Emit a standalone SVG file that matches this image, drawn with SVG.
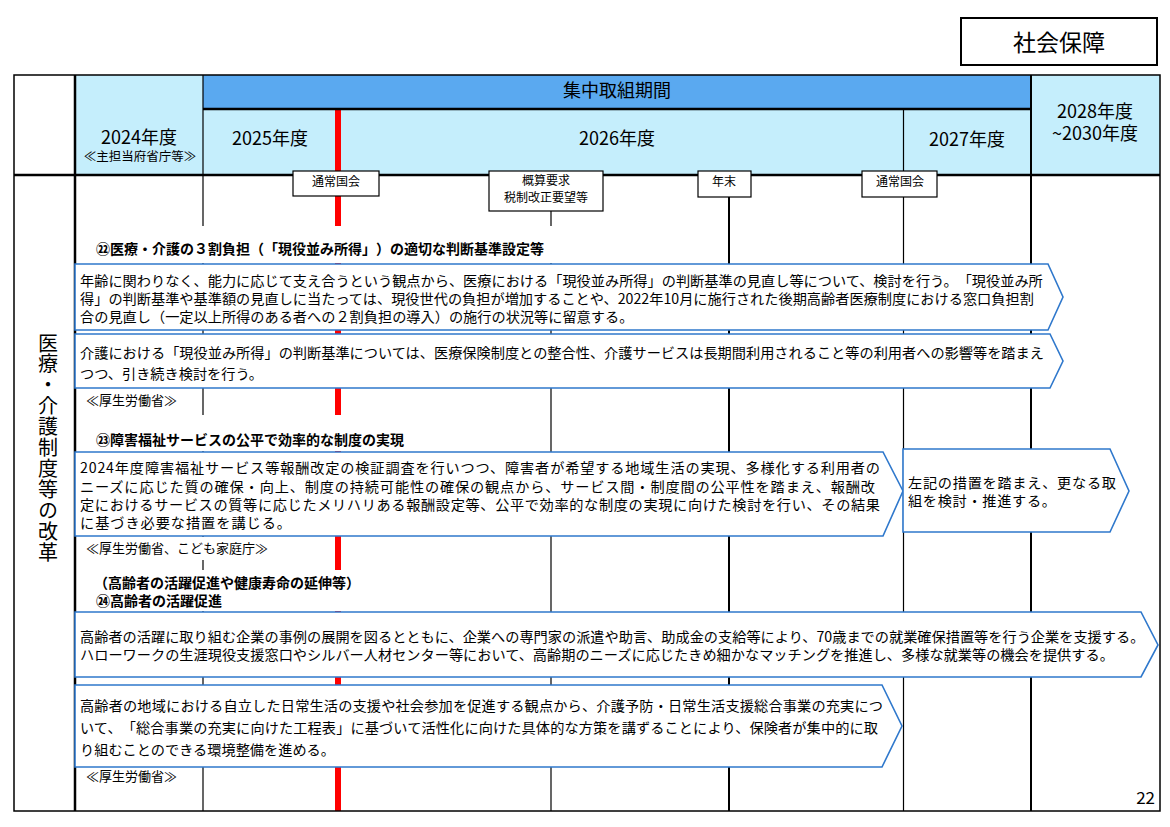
<svg xmlns="http://www.w3.org/2000/svg" width="1170" height="827" viewBox="0 0 1170 827">
<style>
text{font-family:"Noto Sans CJK JP","Noto Sans",sans-serif;fill:#000;text-spacing-trim:space-all}
.hd{font-size:18px;text-anchor:middle}
.ev{font-size:12px;text-anchor:middle}
.bd{font-size:14.2px}
.tt{font-size:14px;font-weight:bold}
.mn{font-size:13px}
.arr{fill:#fff;stroke:#2F78CC;stroke-width:1.6}
.evb{fill:#fff;stroke:#000;stroke-width:1.2}
.thin{stroke:#000;stroke-width:1.2}
.thick{stroke:#000;stroke-width:2}
</style>
<rect width="1170" height="827" fill="#fff"/>
<g id="title">
<rect x="961" y="18" width="196" height="47" fill="#fff" stroke="#000" stroke-width="2"/>
<text x="1059" y="51" font-size="23" text-anchor="middle">社会保障</text>
</g>
<g id="header">
<rect x="75" y="75" width="128" height="100" fill="#C5EEFC"/>
<rect x="203" y="75" width="828" height="34" fill="#5AA9F0"/>
<rect x="203" y="109" width="828" height="66" fill="#C5EEFC"/>
<rect x="1031" y="75" width="129" height="100" fill="#C5EEFC"/>
<text x="617" y="97" class="hd" font-size="17">集中取組期間</text>
<text x="139" y="144" class="hd">2024年度</text>
<text x="140" y="161" font-size="12.5" text-anchor="middle">≪主担当府省庁等≫</text>
<text x="270" y="145" class="hd">2025年度</text>
<text x="617" y="145" class="hd">2026年度</text>
<text x="967" y="146" class="hd">2027年度</text>
<text x="1095" y="118" class="hd">2028年度</text>
<text x="1095" y="140" class="hd">~2030年度</text>
</g>
<g id="grid">
<line x1="203" y1="75" x2="203" y2="811" class="thin"/>
<line x1="551" y1="211" x2="551" y2="811" class="thin"/>
<line x1="729" y1="197" x2="729" y2="811" class="thick"/>
<line x1="903.5" y1="109" x2="903.5" y2="811" class="thin"/>
<line x1="1031" y1="75" x2="1031" y2="811" class="thick"/>
<line x1="338" y1="109" x2="338" y2="811" stroke="#FF0000" stroke-width="6"/>
<line x1="203" y1="109" x2="1031" y2="109" stroke="#000" stroke-width="2.5"/>
<line x1="14" y1="175" x2="1160" y2="175" stroke="#000" stroke-width="2.5"/>
<line x1="75" y1="75" x2="75" y2="811" stroke="#000" stroke-width="2.5"/>
<rect x="14" y="75" width="1146" height="736" fill="none" stroke="#000" stroke-width="1.5"/>
</g>
<g id="events">
<rect x="293" y="171" width="86" height="25" class="evb"/>
<text x="336" y="186" class="ev">通常国会</text>
<rect x="489" y="171" width="114" height="40" class="evb"/>
<text x="546" y="185" class="ev">概算要求</text>
<text x="546" y="202" class="ev">税制改正要望等</text>
<rect x="698" y="171" width="53" height="26" class="evb"/>
<text x="724" y="186" class="ev">年末</text>
<rect x="862" y="171" width="75" height="26" class="evb"/>
<text x="900" y="186" class="ev">通常国会</text>
</g>
<g id="section-label">
<text x="48" y="333" font-size="20" writing-mode="vertical-rl" letter-spacing="0.9">医療・介護制度等の改革</text>
</g>
<g id="item22">
<rect x="77" y="226" width="523" height="37" fill="#fff"/>
<text x="96" y="254" class="tt">㉒医療・介護の３割負担（「現役並み所得」）の適切な判断基準設定等</text>
</g>
<g id="arrow22a">
<polygon points="75,264 1048,264 1063,297 1048,330 75,330" class="arr"/>
<text x="80" y="286" class="bd">年齢に関わりなく、能力に応じて支え合うという観点から、医療における「現役並み所得」の判断基準の見直し等について、検討を行う。「現役並み所</text>
<text x="80" y="304" class="bd">得」の判断基準や基準額の見直しに当たっては、現役世代の負担が増加することや、2022年10月に施行された後期高齢者医療制度における窓口負担割</text>
<text x="80" y="322" class="bd">合の見直し（一定以上所得のある者への２割負担の導入）の施行の状況等に留意する。</text>
</g>
<g id="arrow22b">
<polygon points="75,334 1050,334 1063,361 1050,388 75,388" class="arr"/>
<text x="80" y="358" class="bd">介護における「現役並み所得」の判断基準については、医療保険制度との整合性、介護サービスは長期間利用されること等の利用者への影響等を踏まえ</text>
<text x="80" y="379" class="bd">つつ、引き続き検討を行う。</text>
</g>
<text x="86" y="405" class="mn">≪厚生労働省≫</text>
<g id="item23">
<rect x="77" y="415" width="463" height="36" fill="#fff"/>
<text x="96" y="445" class="tt">㉓障害福祉サービスの公平で効率的な制度の実現</text>
</g>
<g id="arrow23a">
<polygon points="75,452 883,452 903,491 883,536 75,536" class="arr"/>
<text x="80" y="473" class="bd" font-size="14.6" textLength="800" lengthAdjust="spacing">2024年度障害福祉サービス等報酬改定の検証調査を行いつつ、障害者が希望する地域生活の実現、多様化する利用者の</text>
<text x="80" y="492" class="bd" font-size="14.6" textLength="795" lengthAdjust="spacing">ニーズに応じた質の確保・向上、制度の持続可能性の確保の観点から、サービス間・制度間の公平性を踏まえ、報酬改</text>
<text x="80" y="510" class="bd" font-size="14.6" textLength="800" lengthAdjust="spacing">定におけるサービスの質等に応じたメリハリある報酬設定等、公平で効率的な制度の実現に向けた検討を行い、その結果</text>
<text x="80" y="528" class="bd" font-size="14.6" textLength="211" lengthAdjust="spacing">に基づき必要な措置を講じる。</text>
</g>
<g id="arrow23b">
<polygon points="903,449 1110,449 1129,491 1110,532 903,532" class="arr"/>
<text x="908" y="488" class="bd" font-size="14.6" textLength="208" lengthAdjust="spacing">左記の措置を踏まえ、更なる取</text>
<text x="908" y="506" class="bd" font-size="14.6" textLength="148" lengthAdjust="spacing">組を検討・推進する。</text>
</g>
<g id="ministry23">
<rect x="77" y="537" width="203" height="23" fill="#fff"/>
<text x="86" y="553" class="mn">≪厚生労働省、こども家庭庁≫</text>
</g>
<g id="item24">
<rect x="77" y="570" width="463" height="41" fill="#fff"/>
<text x="94" y="588" class="tt">（高齢者の活躍促進や健康寿命の延伸等）</text>
<text x="96" y="606" class="tt">㉔高齢者の活躍促進</text>
</g>
<g id="arrow24a">
<polygon points="75,612 1141,612 1158,645 1141,677 75,677" class="arr"/>
<text x="80" y="642" class="bd">高齢者の活躍に取り組む企業の事例の展開を図るとともに、企業への専門家の派遣や助言、助成金の支給等により、70歳までの就業確保措置等を行う企業を支援する。</text>
<text x="80" y="660" class="bd">ハローワークの生涯現役支援窓口やシルバー人材センター等において、高齢期のニーズに応じたきめ細かなマッチングを推進し、多様な就業等の機会を提供する。</text>
</g>
<g id="arrow24b">
<polygon points="75,685 882,685 902,726 882,767 75,767" class="arr"/>
<text x="80" y="711" class="bd" font-size="14.3" textLength="803" lengthAdjust="spacing">高齢者の地域における自立した日常生活の支援や社会参加を促進する観点から、介護予防・日常生活支援総合事業の充実につ</text>
<text x="80" y="733" class="bd" font-size="14.3" textLength="798" lengthAdjust="spacing">いて、「総合事業の充実に向けた工程表」に基づいて活性化に向けた具体的な方策を講ずることにより、保険者が集中的に取</text>
<text x="80" y="755" class="bd" font-size="14.3">り組むことのできる環境整備を進める。</text>
</g>
<text x="86" y="781" class="mn">≪厚生労働省≫</text>
<text x="1155" y="804" font-size="17" text-anchor="end">22</text>
</svg>
